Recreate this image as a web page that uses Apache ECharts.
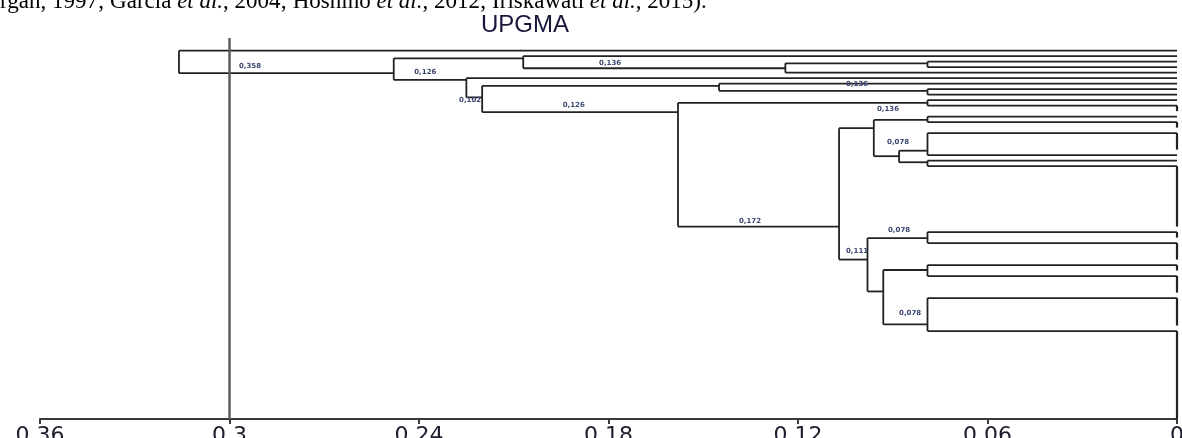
<!DOCTYPE html>
<html>
<head>
<meta charset="utf-8">
<title>UPGMA</title>
<script src="https://cdn.jsdelivr.net/npm/echarts@6/dist/echarts.min.js"></script>
<style>
  html, body { margin: 0; padding: 0; background: #fff; }
  #chart { width: 1182px; height: 438px; }
</style>
</head>
<body>
<div id="chart"></div>
<script>
// distance axis ticks
const distTicks = [0.36, 0.3, 0.24, 0.18, 0.12, 0.06, 0]
const cutOff = 0.3

// leaf groups top to bottom: number of identical samples in each (joined at distance 0)
const leafSizes = [1, 1, 1, 1, 1, 1, 1, 1, 1, 1, 2, 1, 2, 4, 1, 1, 12, 2, 4, 2, 4, 6, 17]

// internal nodes: children (g = leaf group, n = node), join distance,
// and the row (leaf units) where the parent branch meets the node
const nodeKids = [
  ['g2', 'g3'], ['n0', 'g4'], ['g1', 'n1'], ['g7', 'g8'], ['g6', 'n3'],
  ['g9', 'g10'], ['g11', 'g12'], ['g13', 'g14'], ['g15', 'g16'], ['n7', 'n8'],
  ['n6', 'n9'], ['g17', 'g18'], ['g19', 'g20'], ['g21', 'g22'], ['n12', 'n13'],
  ['n11', 'n14'], ['n10', 'n15'], ['n5', 'n16'], ['n4', 'n17'], ['g5', 'n18'],
  ['n2', 'n19'], ['g0', 'n20']
]
const nodeHeights = [0.079, 0.124, 0.207, 0.079, 0.145, 0.079, 0.079, 0.079, 0.079, 0.088,
  0.096, 0.079, 0.079, 0.079, 0.093, 0.098, 0.107, 0.158, 0.220, 0.225, 0.248, 0.316]
const nodeRows = [2.3, 3.2, 1.4, 7.3, 6.4, 9.5, 12.6, 18.2, 20.3, 19.2,
  14.1, 34.1, 39.9, 49.8, 43.8, 38, 32, 11.2, 8.5, 5.3, 4.1, 2]

// small value tags printed on the branches
const tagText = ['0,358', '0,126', '0,136', '0,102', '0,126', '0,136', '0,136', '0,078', '0,172', '0,078', '0,111', '0,078']
const tagDist = [0.2935, 0.238, 0.1795, 0.2238, 0.191, 0.1013, 0.0915, 0.0883, 0.1352, 0.088, 0.1013, 0.0845]
const tagRow = [2.8, 3.9, 2.2, 9.0, 9.9, 6.05, 10.6, 16.6, 31, 32.6, 36.4, 47.7]

// build the segments of the dendrogram
const groupRow = {}
const segs = []
let row = 0
leafSizes.forEach((n, i) => {
  groupRow['g' + i] = row
  if (n > 1) segs.push([0, row, 0, row + n - 1, 1])
  row += n
})
const lastRow = row - 1

const place = id => {
  const k = +id.slice(1)
  return id[0] === 'g' ? [0, groupRow[id]] : [nodeHeights[k], nodeRows[k]]
}

nodeKids.forEach((kids, k) => {
  const h = nodeHeights[k]
  const a = place(kids[0])
  const b = place(kids[1])
  segs.push([h, a[1], h, b[1], 0])
  segs.push([h, a[1], a[0], a[1], 0])
  segs.push([h, b[1], b[0], b[1], 0])
})

const tags = tagText.map((t, i) => [tagDist[i], tagRow[i], i])

const chart = echarts.init(document.getElementById('chart'))
chart.setOption({
  animation: false,
  title: {
    text: 'UPGMA',
    left: 476,
    top: 8,
    textStyle: { fontFamily: 'Liberation Sans', fontSize: 24, fontWeight: 'normal', color: '#17173a' }
  },
  graphic: [{
    type: 'text',
    left: 0,
    top: -10,
    style: {
      text: 'rgan, 1997; García {i|et al.}, 2004; Hoshino {i|et al.}, 2012; Iriskawati {i|et al.}, 2015).',
      fontFamily: 'Liberation Serif',
      fontSize: 23,
      fill: '#000',
      rich: { i: { fontFamily: 'Liberation Serif', fontSize: 23, fontStyle: 'italic', fill: '#000' } }
    }
  }],
  grid: { left: 40, right: 5, top: 38, bottom: 19, outerBoundsMode: 'none' },
  xAxis: {
    type: 'value',
    min: 0,
    max: 0.36,
    interval: 0.06,
    inverse: true,
    splitLine: { show: false },
    axisLine: { show: true, onZero: false, lineStyle: { color: '#3a3a3a', width: 2 } },
    axisTick: { show: true, length: 5, customValues: distTicks, lineStyle: { color: '#3a3a3a', width: 2 } },
    axisLabel: {
      customValues: distTicks,
      fontFamily: 'DejaVu Sans',
      fontSize: 22,
      color: '#1d1d2d',
      margin: 6,
      formatter: v => String(+(+v).toFixed(2))
    }
  },
  yAxis: { type: 'value', inverse: true, min: -2.3, max: lastRow, show: false },
  series: [
    {
      type: 'custom',
      data: segs,
      encode: { x: [0, 2], y: [1, 3] },
      silent: true,
      renderItem: (params, api) => {
        const p1 = api.coord([api.value(0), api.value(1)])
        const p2 = api.coord([api.value(2), api.value(3)])
        return {
          type: 'line',
          shape: { x1: p1[0], y1: p1[1], x2: p2[0], y2: p2[1] },
          style: { stroke: '#222', lineWidth: api.value(4) === 1 ? 2.2 : 1.8 }
        }
      },
      markLine: {
        silent: true,
        symbol: 'none',
        label: { show: false },
        lineStyle: { color: '#5e5e5e', width: 2.5, type: 'solid' },
        data: [{ xAxis: cutOff }]
      }
    },
    {
      type: 'custom',
      data: tags,
      silent: true,
      renderItem: (params, api) => {
        const p = api.coord([api.value(0), api.value(1)])
        return {
          type: 'text',
          x: p[0],
          y: p[1],
          style: {
            text: tagText[api.value(2)],
            fontFamily: 'DejaVu Sans',
            fontSize: 7,
            fontWeight: 'bold',
            fill: '#3b4670',
            align: 'center',
            verticalAlign: 'middle'
          }
        }
      }
    }
  ]
})
</script>
</body>
</html>
